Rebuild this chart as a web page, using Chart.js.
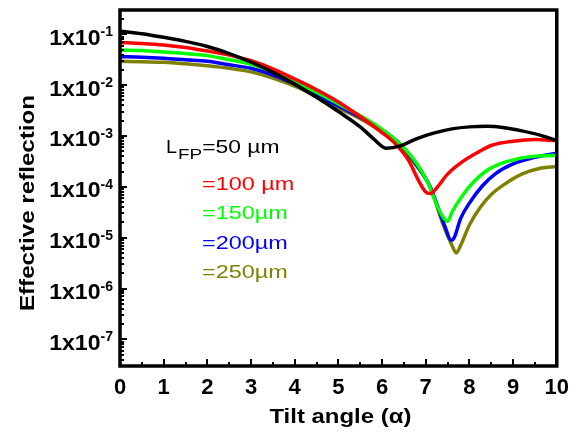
<!DOCTYPE html>
<html>
<head>
<meta charset="utf-8">
<script src="https://cdn.jsdelivr.net/npm/chart.js@4.4.0/dist/chart.umd.min.js"></script>
<style>
html,body{margin:0;padding:0;background:#fff}
</style>
</head>
<body>
<canvas id="myChart" width="578" height="436"></canvas>
<script>
// values (angle in degrees, reflection)
const angle50  = [0,0.5,1,1.5,2,2.5,3,3.5,4,4.5,5,5.5,5.8,6.1,6.4,6.8,7.2,7.6,8,8.4,8.8,9.2,9.6,10];
const refl50   = [0.1148,0.1023,0.0871,0.0724,0.0575,0.0417,0.0282,0.0178,0.01047,5.75e-3,3.02e-3,1.51e-3,8.9e-4,5.75e-4,6.3e-4,8.9e-4,1.15e-3,1.38e-3,1.51e-3,1.55e-3,1.45e-3,1.26e-3,1.05e-3,8.1e-4];

const angle100 = [0,0.5,1,1.5,2,2.5,3,3.5,4,4.5,5,5.5,6,6.3,6.6,6.85,7,7.1,7.25,7.5,7.85,8.2,8.5,9,9.5,10];
const refl100  = [0.0692,0.0661,0.0617,0.055,0.0468,0.0389,0.0302,0.0209,0.0132,8.13e-3,4.68e-3,2.4e-3,1.17e-3,7.08e-4,3.39e-4,1.26e-4,7.9e-5,7.4e-5,9.5e-5,1.78e-4,3.16e-4,4.8e-4,6.5e-4,7.9e-4,8.5e-4,8.1e-4];

const angle150 = [0,0.5,1,1.5,2,2.5,3,3.5,4,4.5,5,5.5,6,6.4,6.8,7.05,7.25,7.4,7.5,7.6,7.85,8.1,8.4,8.7,9.1,9.5,10];
const refl150  = [0.049,0.0479,0.0447,0.0417,0.038,0.0316,0.0257,0.0182,0.01175,7.24e-3,4.27e-3,2.51e-3,1.35e-3,7.08e-4,2.82e-4,1.2e-4,4.47e-5,2.51e-5,2.09e-5,3.16e-5,6.9e-5,1.26e-4,2.09e-4,2.82e-4,3.55e-4,3.98e-4,4.17e-4];

const angle200 = [0,0.5,1,1.5,2,2.5,3,3.5,4,4.5,5,5.5,6,6.4,6.8,7.1,7.3,7.45,7.58,7.65,7.8,8,8.3,8.6,9,9.5,10];
const refl200  = [0.0363,0.0355,0.0339,0.0316,0.0295,0.0251,0.0214,0.0158,0.01047,6.61e-3,3.89e-3,2.34e-3,1.32e-3,7.08e-4,2.63e-4,1e-4,3.55e-5,1.58e-5,8.9e-6,1e-5,2.4e-5,4.79e-5,1.05e-4,1.82e-4,2.82e-4,3.8e-4,4.57e-4];

const angle250 = [0,0.5,1,1.5,2,2.5,3,3.5,4,4.5,5,5.5,6,6.4,6.8,7.1,7.4,7.6,7.7,7.8,8,8.25,8.5,8.8,9.2,9.6,10];
const refl250  = [0.0295,0.0288,0.0282,0.0263,0.024,0.0214,0.0182,0.0138,9.55e-3,6.03e-3,3.55e-3,2.19e-3,1.2e-3,6.31e-4,2.51e-4,1e-4,1.78e-5,7.08e-6,5.01e-6,7.08e-6,1.78e-5,3.98e-5,7.08e-5,1.12e-4,1.78e-4,2.29e-4,2.51e-4];

const seriesNames  = ['=50 µm','=100 µm','=150µm','=200µm','=250µm'];
const seriesColors = ['#000000','#ff0000','#00ff00','#0000ff','#808000'];

const yMajor = [1e-1,1e-2,1e-3,1e-4,1e-5,1e-6,1e-7];
const yExp   = ['-1','-2','-3','-4','-5','-6','-7'];
const xMajor = [0,1,2,3,4,5,6,7,8,9,10];
const xMinor = [0.5,1.5,2.5,3.5,4.5,5.5,6.5,7.5,8.5,9.5];
const xTitle = 'Tilt angle (α)';
const yTitle = 'Effective reflection';

const FONT = '"Liberation Sans", Arial, sans-serif';

function pts(xs, ys){ return xs.map((x,i) => ({x: x, y: ys[i]})); }

// text drawn a little wider than the font, like the original figure
function wideText(c, txt, x, y, font, sx, align){
  c.save();
  c.font = font;
  c.textAlign = align || 'left';
  c.translate(x, y);
  c.scale(sx, 1);
  c.fillText(txt, 0, 0);
  const w = c.measureText(txt).width * sx;
  c.restore();
  return w;
}

const angles = [angle50, angle100, angle150, angle200, angle250];
const refls  = [refl50, refl100, refl150, refl200, refl250];

var datasets = angles.map((a,i) => ({
  label: seriesNames[i],
  data: pts(a, refls[i]),
  borderColor: seriesColors[i],
  borderWidth: 3.5,
  pointRadius: 0,
  cubicInterpolationMode: 'monotone',
  fill: false
}));

var decor = {
  id: 'decor',
  afterDraw(chart){
    const c = chart.ctx, a = chart.chartArea;
    const xs = chart.scales.x, ys = chart.scales.y;
    c.save();
    c.strokeStyle = '#000';
    c.lineWidth = 2;
    c.beginPath();
    xMajor.forEach(v => { const x = Math.round(xs.getPixelForValue(v)); c.moveTo(x, a.bottom); c.lineTo(x, a.bottom - 7); });
    xMinor.forEach(v => { const x = Math.round(xs.getPixelForValue(v)); c.moveTo(x, a.bottom); c.lineTo(x, a.bottom - 4); });
    for (let e = -8; e <= -1; e++) {
      for (let m = 1; m <= 9; m++) {
        const v = m * Math.pow(10, e);
        if (v < ys.min || v > ys.max) continue;
        const y = Math.round(ys.getPixelForValue(v));
        c.moveTo(a.left, y); c.lineTo(a.left + (m === 1 ? 7 : 4), y);
      }
    }
    c.stroke();
    c.lineWidth = 3.5;
    c.strokeRect(a.left, a.top, a.right - a.left, a.bottom - a.top);

    c.fillStyle = '#000';
    c.textBaseline = 'alphabetic';
    // y tick labels 1x10^-n
    yMajor.forEach((v,i) => {
      const y = ys.getPixelForValue(v);
      const xe = a.left - 7;
      c.font = 'bold 14px ' + FONT;
      const sw = c.measureText(yExp[i]).width;
      wideText(c, yExp[i], xe, y + 2, 'bold 14px ' + FONT, 1, 'right');
      wideText(c, '1x10', xe - sw, y + 10.5, 'bold 22px ' + FONT, 1.05, 'right');
    });

    // axis titles
    wideText(c, xTitle, (a.left + a.right) / 2 + 2, 423, 'bold 21px ' + FONT, 1.14, 'center');
    c.save();
    c.translate(34, 203);
    c.rotate(-Math.PI / 2);
    wideText(c, yTitle, 0, 0, 'bold 21px ' + FONT, 1.15, 'center');
    c.restore();

    // legend text
    c.fillStyle = seriesColors[0];
    let x0 = 166;
    x0 += wideText(c, 'L', x0, 153, '18px ' + FONT, 1.1);
    x0 += wideText(c, 'FP', x0 + 1, 159, '14px ' + FONT, 1.35) + 1;
    wideText(c, seriesNames[0], x0, 153, '18px ' + FONT, 1.27);
    for (let i = 1; i < seriesNames.length; i++) {
      c.fillStyle = seriesColors[i];
      wideText(c, seriesNames[i], 202, 190 + (i - 1) * 29.3, '18px ' + FONT, 1.3);
    }
    c.restore();
  }
};

var ctx = document.getElementById('myChart').getContext('2d');
new Chart(ctx, {
  type: 'line',
  data: { datasets: datasets },
  options: {
    responsive: false,
    animation: false,
    layout: { padding: { top: 10, right: 21, left: 0, bottom: 0 } },
    plugins: { legend: { display: false }, tooltip: { enabled: false } },
    scales: {
      x: {
        type: 'linear', min: 0, max: 10,
        grid: { display: false, drawTicks: false },
        border: { display: false },
        afterFit: s => { s.height = 70; },
        afterBuildTicks: s => { s.ticks = xMajor.map(v => ({value: v})); },
        ticks: { color: '#000', padding: 9, maxRotation: 0, font: { family: FONT, size: 22, weight: 'bold' } }
      },
      y: {
        type: 'logarithmic', min: 3.3e-8, max: 0.3,
        grid: { display: false, drawTicks: false },
        border: { display: false },
        afterFit: s => { s.width = 120; },
        ticks: { display: false }
      }
    }
  },
  plugins: [decor]
});
</script>
</body>
</html>
